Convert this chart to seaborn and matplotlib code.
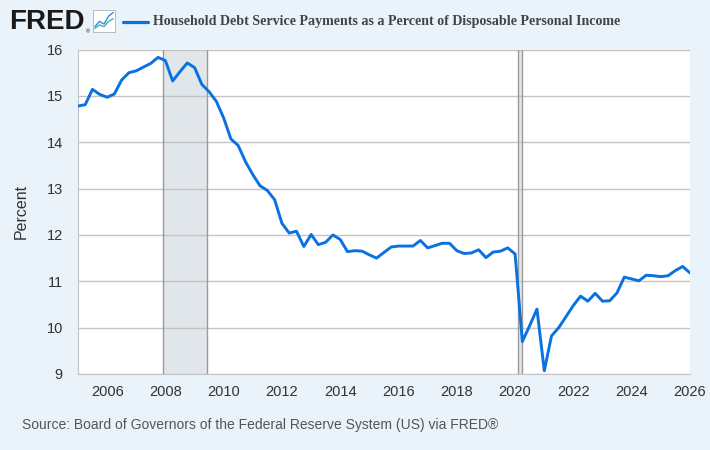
import matplotlib
matplotlib.use("Agg")
import matplotlib.pyplot as plt
import matplotlib.dates as mdates
import pandas as pd
import seaborn as sns

# quarterly readings, 2005 Q1 onward
start = "2005-01-01"
values = [14.78, 14.81, 15.14, 15.03, 14.97, 15.04, 15.34, 15.50, 15.54, 15.62,
          15.70, 15.83, 15.76, 15.32, 15.52, 15.71, 15.61, 15.25, 15.09, 14.88,
          14.52, 14.07, 13.93, 13.58, 13.30, 13.06, 12.96, 12.76, 12.25, 12.04,
          12.08, 11.75, 12.01, 11.79, 11.84, 12.00, 11.90, 11.64, 11.66, 11.65,
          11.57, 11.50, 11.62, 11.74, 11.76, 11.76, 11.76, 11.88, 11.72, 11.77,
          11.82, 11.82, 11.66, 11.60, 11.61, 11.68, 11.51, 11.63, 11.65, 11.72,
          11.59, 9.70, 10.04, 10.40, 9.07, 9.82, 10.00, 10.24, 10.48, 10.68,
          10.57, 10.74, 10.57, 10.58, 10.75, 11.09, 11.05, 11.01, 11.13, 11.12,
          11.10, 11.12, 11.23, 11.32, 11.18]
recessions = [("2007-12-01", "2009-06-01"), ("2020-02-01", "2020-04-01")]
y_ticks = [9, 10, 11, 12, 13, 14, 15, 16]
x_years = list(range(2006, 2027, 2))

df = pd.DataFrame({"date": pd.date_range(start, periods=len(values), freq="QS"),
                   "value": values})

sns.set_style("white")
plt.rcParams["font.family"] = ["Liberation Sans", "DejaVu Sans"]

bg = "#eaf2fa"
fig = plt.figure(figsize=(7.1, 4.5), dpi=100, facecolor=bg)
ax = fig.add_axes([0.1099, 0.1689, 0.8619, 0.7211])
ax.set_facecolor("white")

# recession bars
for a, b in recessions:
    ax.axvspan(pd.Timestamp(a), pd.Timestamp(b), color="#e1e6eb", zorder=0, lw=0)
    for d in (a, b):
        ax.axvline(pd.Timestamp(d), color="#9a9a9a", lw=1.0, zorder=1)

sns.lineplot(data=df, x="date", y="value", ax=ax, color="#0a71e0", lw=2.1, zorder=3)

ax.set_xlim(df["date"].iloc[0], df["date"].iloc[-1])
ax.set_ylim(9, 16)
ax.set_yticks(y_ticks)
ax.set_xticks([pd.Timestamp(f"{y}-01-01") for y in x_years])
ax.xaxis.set_major_formatter(mdates.DateFormatter("%Y"))
ax.grid(axis="y", color="#c4c4c4", lw=1.0, zorder=1)
ax.tick_params(axis="x", colors="#c8d8ea", length=6, width=1, labelcolor="#333333",
               labelsize=10.5, pad=2)
ax.tick_params(axis="y", length=0, labelcolor="#333333", labelsize=10.5, pad=11)
for s in ["top", "right"]:
    ax.spines[s].set_visible(False)
ax.spines["left"].set_color("#c4c4c4")
ax.spines["bottom"].set_color("#c4c4c4")
ax.set_xlabel("")
ax.set_ylabel("Percent", fontsize=11.5, color="#333333", labelpad=13)

# header: FRED logo + legend line + title
fig.text(0.013, 0.952, "FRED", fontsize=20, fontweight="bold", color="#1a1a1a",
         va="center", ha="left")
fig.text(0.121, 0.929, "®", fontsize=4, color="#1a1a1a", va="center")
icon = fig.add_axes([0.131, 0.929, 0.031, 0.049])
icon.set_facecolor("white")
icon.plot([0, 1, 2, 3, 4], [0.3, 0.9, 0.6, 1.5, 1.9], color="#2f8fe0", lw=1)
icon.plot([0, 1, 2, 3, 4], [0.1, 0.5, 0.3, 0.9, 1.2], color="#3cb89a", lw=1)
icon.set_xlim(-0.4, 4.4)
icon.set_ylim(-0.3, 2.2)
icon.set_xticks([])
icon.set_yticks([])
for s in icon.spines.values():
    s.set_color("#bbbbbb")
    s.set_linewidth(0.7)
fig.add_artist(plt.Line2D([0.173, 0.208], [0.952, 0.952], color="#0a71e0", lw=2.3))
fig.text(0.215, 0.952, "Household Debt Service Payments as a Percent of Disposable Personal Income",
         fontsize=10.05, fontweight="bold", color="#444444", va="center", ha="left",
         family=["Liberation Serif", "DejaVu Serif"])

fig.text(0.031, 0.055, "Source: Board of Governors of the Federal Reserve System (US) via FRED®",
         fontsize=10.0, color="#555555", va="center", ha="left")

fig.savefig("out.png", dpi=100, facecolor=bg)
